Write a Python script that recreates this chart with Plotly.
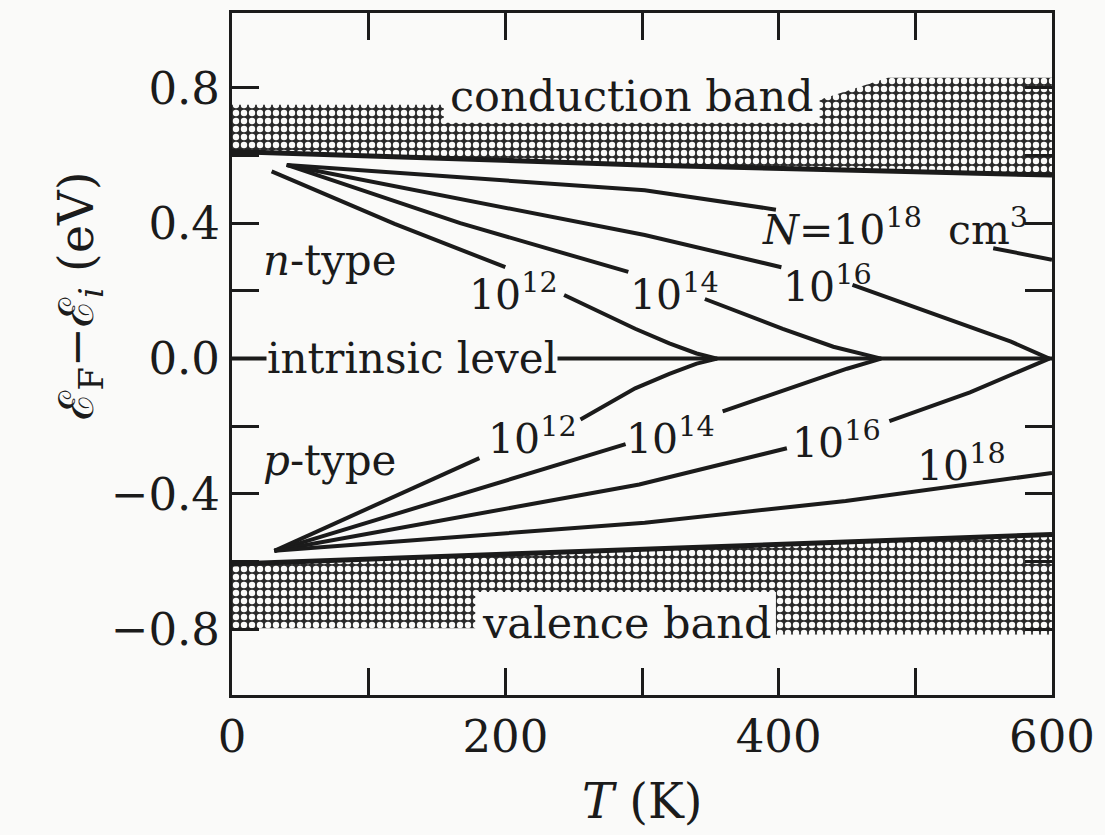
import plotly.graph_objects as go

# ---- band edges (eV, relative to the intrinsic level) ----
band_T = [0, 300, 600]
ec_E = [0.612, 0.572, 0.542]          # conduction band edge
ev_E = [-0.607, -0.563, -0.520]       # valence band edge

# outer boundary of the shaded band areas (stepped where labels sit)
cb_top_T = [600, 480, 430, 430, 155, 155, 0]
cb_top_E = [0.83, 0.83, 0.765, 0.697, 0.697, 0.75, 0.75]
vb_bot_T = [600, 398, 398, 178, 178, 0]
vb_bot_E = [-0.815, -0.815, -0.69, -0.69, -0.797, -0.797]

# ---- Fermi level vs temperature, n-type (None = break behind label) ----
n12_T = [29, 119, 200, None, 243, 270, 295, 320, 340, 355]
n12_E = [0.553, 0.398, 0.270, None, 0.188, 0.135, 0.088, 0.045, 0.015, 0.0]
n14_T = [40, 167, 290, None, 346, 403, 440, 475]
n14_E = [0.572, 0.400, 0.256, None, 0.176, 0.088, 0.035, 0.0]
n16_T = [40, 170, 302, 402, None, 454, 524, 570, 598]
n16_E = [0.572, 0.470, 0.365, 0.270, None, 0.218, 0.118, 0.050, 0.0]
n18_T = [40, 150, 302, 398, None, 557, 600]
n18_E = [0.572, 0.540, 0.497, 0.440, None, 0.326, 0.292]

# ---- Fermi level vs temperature, p-type ----
p12_T = [31, 181, None, 255, 295, 320, 340, 355]
p12_E = [-0.568, -0.294, None, -0.180, -0.088, -0.045, -0.015, 0.0]
p14_T = [31, 160, 288, None, 359, 416, 450, 475]
p14_E = [-0.568, -0.410, -0.253, None, -0.156, -0.077, -0.030, 0.0]
p16_T = [31, 298, 406, None, 481, 540, 598]
p16_E = [-0.568, -0.372, -0.265, None, -0.185, -0.100, 0.0]
p18_T = [31, 150, 302, 449, 600]
p18_E = [-0.568, -0.532, -0.485, -0.421, -0.338]

intr_T = [0, 600]
intr_E = [0.0, 0.0]

# ---- axis ticks ----
x_tickvals = [0, 100, 200, 300, 400, 500, 600]
x_ticktext = ["0", "", "200", "", "400", "", "600"]
y_tickvals = [-0.8, -0.6, -0.4, -0.2, 0.0, 0.2, 0.4, 0.6, 0.8]
y_ticktext = ["\u22120.8", "", "\u22120.4", "", "0.0", "", "0.4", "", "0.8"]

INK = "#1b1b1b"
BG = "#fafaf9"
SCREEN = "#2a2a2a"
FONT = "DejaVu Serif"

fig = go.Figure()

# dark screen with light dots for the band areas
hatch = dict(shape=".", fgcolor=BG, bgcolor=SCREEN, size=8, solidity=0.5,
             fillmode="replace")

# shaded conduction band
fig.add_trace(go.Scatter(
    x=band_T + cb_top_T, y=ec_E + cb_top_E,
    fill="toself", mode="none", fillcolor=SCREEN, fillpattern=hatch,
    hoverinfo="skip", showlegend=False))
# shaded valence band
fig.add_trace(go.Scatter(
    x=band_T + vb_bot_T, y=ev_E + vb_bot_E,
    fill="toself", mode="none", fillcolor=SCREEN, fillpattern=hatch,
    hoverinfo="skip", showlegend=False))

# band edges
for e in (ec_E, ev_E):
    fig.add_trace(go.Scatter(x=band_T, y=e, mode="lines",
                             line=dict(color=INK, width=5),
                             hoverinfo="skip", showlegend=False))

# intrinsic level and Fermi-level curves
curves = [(intr_T, intr_E),
          (n12_T, n12_E), (n14_T, n14_E), (n16_T, n16_E), (n18_T, n18_E),
          (p12_T, p12_E), (p14_T, p14_E), (p16_T, p16_E), (p18_T, p18_E)]
for t, e in curves:
    fig.add_trace(go.Scatter(x=t, y=e, mode="lines",
                             line=dict(color=INK, width=4),
                             connectgaps=False,
                             hoverinfo="skip", showlegend=False))

def label(x, y, text, size=41, bg=None, xanchor="center"):
    fig.add_annotation(x=x, y=y, xref="x", yref="y", text=text,
                       showarrow=False, xanchor=xanchor, yanchor="middle",
                       font=dict(family=FONT, size=size, color=INK),
                       bgcolor=bg, borderpad=0)

label(293, 0.776, "conduction band", size=43, bg=BG)
label(289, -0.78, "valence band", size=43, bg=BG)
label(22, 0.29, "<i>n</i>-type", size=42, xanchor="left")
label(22, -0.30, "<i>p</i>-type", size=42, xanchor="left")
label(25, 0.0, "intrinsic level", size=42, bg=BG, xanchor="left")

label(206, 0.197, "10<sup>12</sup>")
label(324, 0.197, "10<sup>14</sup>")
label(436, 0.22, "10<sup>16</sup>")
label(485, 0.39, "<i>N</i>=10<sup>18</sup>&nbsp;&nbsp;cm<sup>3</sup>")

label(220, -0.23, "10<sup>12</sup>")
label(321, -0.23, "10<sup>14</sup>")
label(442, -0.24, "10<sup>16</sup>")
label(534, -0.31, "10<sup>18</sup>")

# axis titles
fig.add_annotation(xref="paper", yref="paper", x=-0.228, y=0.585,
                   text="\u2130<sub>F</sub>\u2212\u2130<sub><i>i</i></sub> (eV)",
                   textangle=-90, showarrow=False,
                   font=dict(family=FONT, size=48, color=INK))
fig.add_annotation(xref="paper", yref="paper", x=0.5, y=-0.155,
                   text="<i>T</i> (K)", showarrow=False, yanchor="middle",
                   font=dict(family=FONT, size=48, color=INK))

axis_common = dict(showline=True, linecolor=INK, linewidth=3, mirror="ticks",
                   ticks="inside", ticklen=27, tickwidth=3, tickcolor=INK,
                   showgrid=False, zeroline=False,
                   tickfont=dict(family=FONT, size=45, color=INK))
fig.update_xaxes(range=[0, 600], tickvals=x_tickvals, ticktext=x_ticktext, **axis_common)
fig.update_yaxes(range=[-0.994, 1.021], tickvals=y_tickvals, ticktext=y_ticktext, **axis_common)

fig.update_layout(width=1105, height=835,
                  margin=dict(l=232, r=43, t=10, b=140),
                  paper_bgcolor=BG, plot_bgcolor=BG)

fig.write_html("out.html")
